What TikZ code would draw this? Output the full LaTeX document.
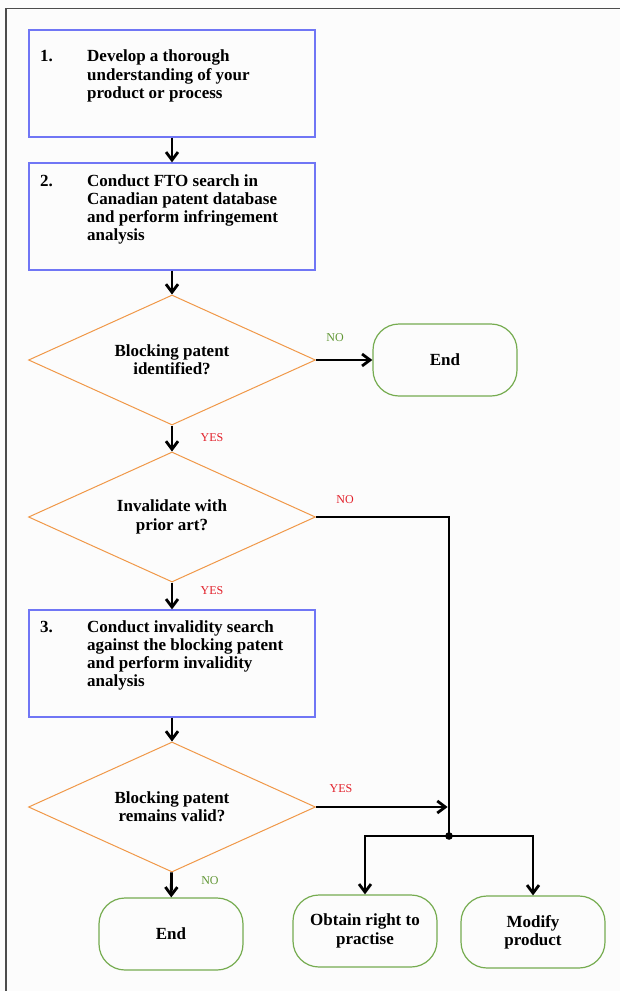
\documentclass[tikz,border=0pt]{standalone}
\usepackage{fontspec}
\setmainfont{Liberation Serif}
\usetikzlibrary{shapes.geometric,arrows.meta}
\definecolor{stepblue}{RGB}{112,118,245}
\definecolor{askorange}{RGB}{240,152,72}
\definecolor{endgreen}{RGB}{118,172,80}
\definecolor{labred}{RGB}{226,32,42}
\definecolor{labgreen}{RGB}{96,150,52}
\definecolor{paper}{RGB}{252,252,252}

\begin{document}
\begin{tikzpicture}
            [x=1pt,y=-1pt,
             every node/.style={font=\bfseries\fontsize{17}{18.3}\selectfont,inner sep=0pt},
             stepbox/.style={draw=stepblue,line width=1.2pt,minimum width=286pt,minimum height=107pt},
             steptext/.style={anchor=base west,align=left},
             ask/.style={diamond,aspect=2.2,draw=askorange,line width=1pt,minimum width=287pt,minimum height=130pt,align=center},
             endbox/.style={draw=endgreen,line width=1.2pt,rounded corners=26pt,minimum width=144pt,minimum height=72pt,align=center},
             labyes/.style={font=\fontsize{12}{14}\selectfont,text=labred},
             labno/.style={font=\fontsize{12}{14}\selectfont,text=labgreen},
             labnored/.style={font=\fontsize{12}{14}\selectfont,text=labred},
             flow/.style={line width=2.8pt,-{Straight Barb[length=8pt,width=12pt]}},
             wire/.style={line width=2.8pt}]
            \useasboundingbox (0,0) rectangle (620,991);
            \fill[paper] (0,0) rectangle (620,991);
            \draw[line width=1.5pt,black!70] (6,991) -- (6,8.5) -- (620,8.5);

            % steps
            \node[stepbox] (s1) at (172,83.5) {};
            \node[steptext] (s1txt) at (40,61.7) {\makebox[47pt][l]{1.}\begin{tabular}[t]{@{}l@{}}Develop a thorough\\understanding of your\\product or process\end{tabular}};
            \node[stepbox] (s2) at (172,216.5) {};
            \node[steptext] (s2txt) at (40,186) {\makebox[47pt][l]{2.}\begin{tabular}[t]{@{}l@{}}Conduct FTO search in\\Canadian patent database\\and perform infringement\\analysis\end{tabular}};
            \node[stepbox] (s3) at (172,663.5) {};
            \node[steptext] (s3txt) at (40,632) {\makebox[47pt][l]{3.}\begin{tabular}[t]{@{}l@{}}Conduct invalidity search\\against the blocking patent\\and perform invalidity\\analysis\end{tabular}};

            % questions
            \node[ask] (q1) at (172,360) {Blocking patent\\identified?};
            \node[ask] (q2) at (172,517) {Invalidate with\\prior art?};
            \node[ask] (q3) at (172,807) {Blocking patent\\remains valid?};

            % outcomes
            \node[endbox] (e1) at (445,360) {End};
            \node[endbox] (e2) at (171,934) {End};
            \node[endbox] (get) at (365,931) {Obtain right to\\practise};
            \node[endbox] (mod) at (533,932) {Modify\\product};
            \coordinate (junc) at (449,836);

            % labels
            \node[labno] (no1) at (335,338) {NO};
            \node[labyes] (yes1) at (212,438) {YES};
            \node[labnored] (no2) at (345,500) {NO};
            \node[labyes] (yes2) at (212,591) {YES};
            \node[labyes] (yes3) at (341,789) {YES};
            \node[labno] (no3) at (210,881) {NO};

            % flow
            \draw[flow] (s1) -- (s2);
            \draw[flow] (s2) -- (q1);
            \draw[flow] (q1.east) -- (e1.west);
            \draw[flow] (q1) -- (q2);
            \draw[wire] (q2.east) -| (junc);
            \draw[flow] (q2) -- (s3);
            \draw[flow] (s3) -- (q3);
            \draw[flow,shorten >=1.4pt] (q3.east) -- (q3.east -| junc);
            \draw[flow] (q3) -- (e2);
            \draw[flow] (junc) -| (get);
            \draw[flow] (junc) -| (mod);
            \fill (junc) circle (3.8pt);
        \end{tikzpicture}
\end{document}
